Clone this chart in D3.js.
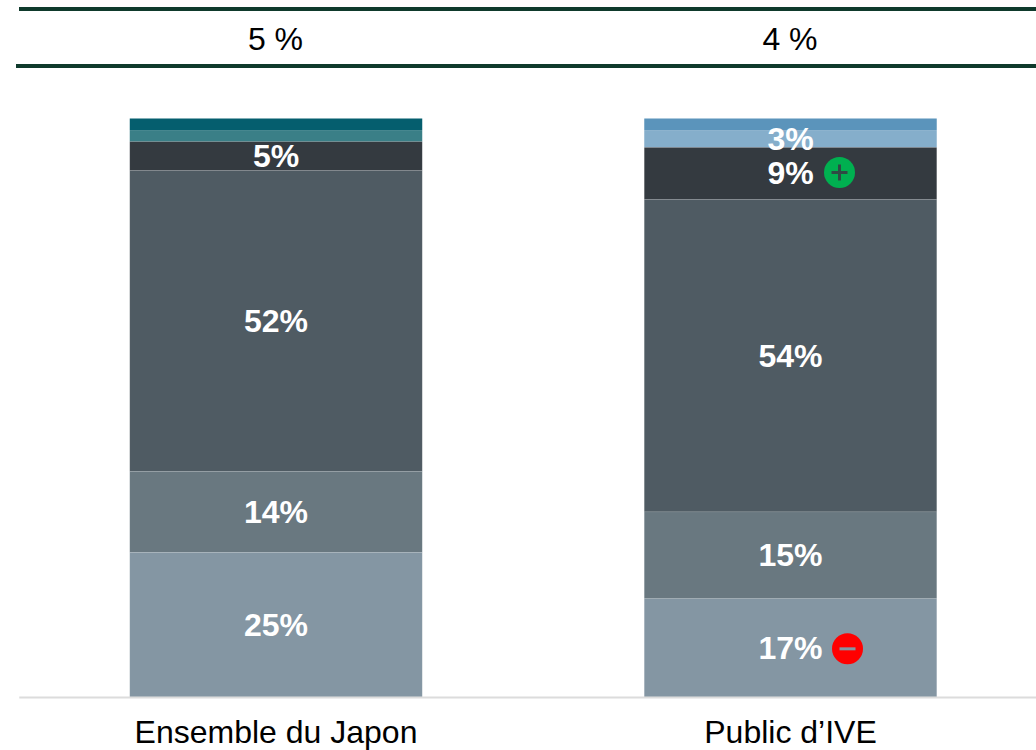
<!DOCTYPE html>
<html>
<head>
<meta charset="utf-8">
<script src="https://cdn.jsdelivr.net/npm/d3@7"></script>
<style>
  html, body { margin: 0; padding: 0; background: #fff; overflow: hidden; }
  text { font-family: "Liberation Sans", Arial, sans-serif; }
</style>
</head>
<body>
<div id="graph"></div>
<script>
// Data
const categories = ['Ensemble du Japon', 'Public d\u2019IVE'];
const topValues = ['5 %', '4 %'];

// Shares from the top of the bar to the bottom
const japonValues = [2, 2, 5, 52, 14, 25];
const iveValues = [2, 3, 9, 54, 15, 17];

// Which shares get a printed label
const japonLabels = [null, null, '5%', '52%', '14%', '25%'];
const iveLabels = [null, '3%', '9%', '54%', '15%', '17%'];

// Significance markers, same order as the values
const iveMarkers = [null, null, '+', null, null, '-'];

const japonColors = ['#055e6e', '#3a7f87', '#343a40', '#4f5b63', '#697880', '#8496a3'];
const iveColors = ['#5b94bb', '#85aecb', '#343a40', '#4f5b63', '#697880', '#8496a3'];

const w = 1036;
const h = 750;
const baseline = 697;
const barTop = 118.5;

const svg = d3.select('#graph')
  .append('svg')
  .attr('width', w)
  .attr('height', h)
  .style('display', 'block');

// Scales
const xScale = d3.scaleBand()
  .domain(categories)
  .range([18.75, 1047.75])
  .paddingInner(0.4315)
  .paddingOuter(0.21575);

const yScale = d3.scaleLinear()
  .domain([0, 100])
  .range([baseline, barTop]);

// Stack each bar so that the first share sits on top
const bars = [
  { name: categories[0], values: japonValues, labels: japonLabels, colors: japonColors, markers: [] },
  { name: categories[1], values: iveValues, labels: iveLabels, colors: iveColors, markers: iveMarkers }
];

const segments = bars.flatMap((bar) => {
  let top = 100;
  return bar.values.map((v, i) => {
    const seg = {
      name: bar.name,
      hi: top,
      lo: top - v,
      label: bar.labels[i],
      color: bar.colors[i],
      marker: bar.markers[i] || null,
      thin: i < 2
    };
    top -= v;
    return seg;
  });
});

// Top header rules
svg.append('g')
  .selectAll('line')
  .data([[19, 9], [16, 66]])
  .enter()
  .append('line')
  .attr('x1', (d) => d[0])
  .attr('x2', w)
  .attr('y1', (d) => d[1])
  .attr('y2', (d) => d[1])
  .attr('stroke', '#0f3a2c')
  .attr('stroke-width', 4);

// Header values
svg.append('g')
  .selectAll('text')
  .data(categories)
  .enter()
  .append('text')
  .attr('x', (d) => xScale(d) + xScale.bandwidth() / 2 - 0.5)
  .attr('y', 39)
  .attr('dy', '0.35em')
  .attr('text-anchor', 'middle')
  .attr('font-size', 32)
  .attr('fill', '#000')
  .text((d, i) => topValues[i]);

// Bars
svg.append('g')
  .selectAll('rect')
  .data(segments)
  .enter()
  .append('rect')
  .attr('x', (d) => xScale(d.name))
  .attr('y', (d) => yScale(d.hi))
  .attr('width', xScale.bandwidth())
  .attr('height', (d) => yScale(d.lo) - yScale(d.hi))
  .attr('fill', (d) => d.color)
  .attr('stroke', (d) => d.thin ? 'none' : 'rgba(255,255,255,0.12)')
  .attr('stroke-width', 0.75);

// Baseline and category names
const xAxis = d3.axisBottom(xScale).tickSize(0).tickPadding(23);
const axisG = svg.append('g')
  .attr('transform', 'translate(0,' + baseline + ')')
  .call(xAxis);
axisG.select('.domain')
  .attr('stroke', '#dcdcdc')
  .attr('stroke-width', 2);
axisG.selectAll('text')
  .attr('font-size', 32)
  .attr('font-family', '"Liberation Sans", Arial, sans-serif')
  .attr('fill', '#000');

// Share labels
const labelled = segments.filter((d) => d.label);
const midY = (d) => yScale((d.hi + d.lo) / 2);
const midX = (d) => xScale(d.name) + xScale.bandwidth() / 2;

svg.append('g')
  .selectAll('text')
  .data(labelled)
  .enter()
  .append('text')
  .attr('x', midX)
  .attr('y', midY)
  .attr('dy', '0.34em')
  .attr('text-anchor', 'middle')
  .attr('font-size', 32)
  .attr('font-weight', 'bold')
  .attr('fill', '#fff')
  .text((d) => d.label);

// Plus / minus markers, next to the label
const markers = svg.append('g')
  .selectAll('g')
  .data(labelled.filter((d) => d.marker))
  .enter()
  .append('g')
  .attr('transform', (d) => {
    const dx = d.label.length > 2 ? 57 : 49;
    const dy = d.marker === '+' ? -1 : 1;
    return 'translate(' + (midX(d) + dx) + ',' + (midY(d) + dy) + ')';
  });

markers.append('circle')
  .attr('r', 15.5)
  .attr('fill', (d) => d.marker === '+' ? '#00b050' : '#ff0000');

markers.append('path')
  .attr('d', (d) => d.marker === '+' ? 'M-8,0H8M0,-8V8' : 'M-8,0H8')
  .attr('fill', 'none')
  .attr('stroke', (d) => d.marker === '+' ? '#2f4a44' : '#8496a3')
  .attr('stroke-width', 3);
</script>
</body>
</html>
